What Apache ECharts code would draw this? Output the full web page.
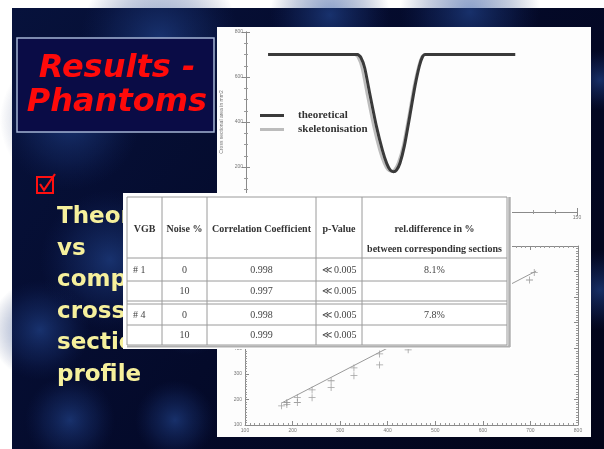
<!DOCTYPE html>
<html>
<head>
<meta charset="utf-8">
<title>Results - Phantoms</title>
<script src="https://cdn.jsdelivr.net/npm/echarts@6/dist/echarts.min.js"></script>
<style>
html,body{margin:0;padding:0;background:#fff}
#main{width:604px;height:449px}
</style>
</head>
<body>
<div id="main"></div>
<script>
// 上图: 截面积曲线 (x, mm2)
let theoretical = [[10,700],[50.5,700],[52,688],[53.8,640],[56.2,520],[59,385],[61.8,275],[63.8,215],[65.4,186],[66.8,179],[68.2,186],[69.8,218],[71.8,295],[74.2,425],[76.6,560],[78.6,650],[80,690],[81.2,700],[122,700]]
let skeletonisation = [[10,700],[49.2,700],[50.7,688],[52.5,640],[54.9,520],[57.7,385],[60.5,275],[62.6,215],[64.2,188],[65.6,181],[67.2,188],[69,220],[71.2,295],[73.7,425],[76.1,560],[78.2,650],[79.6,690],[80.8,700],[122,700]]
let profileLegend = ['theoretical','skeletonisation']
// 下图: 散点 + 回归线
let scatterPoints = [[177,175],[188,188],[188,180],[210,207],[210,188],[241,237],[241,207],[281,273],[281,247],[329,323],[329,293],[383,378],[383,335],[443,394],[698,667],[708,696]]
let fitLine = [[178,187],[712,702]]
// 表格
let tableHeader = ['VGB','Noise %','Correlation Coefficient','p-Value',['rel.difference in %','between corresponding sections']]
let tableRows = [
    ['# 1','0','0.998','≪ 0.005','8.1%'],
    ['','10','0.997','≪ 0.005',''],
    ['# 4','0','0.998','≪ 0.005','7.8%'],
    ['','10','0.999','≪ 0.005','']
]
// 幻灯片文字
let titleLines = ['Results -','Phantoms']
let bulletLines = ['Theoretical','vs','computed','cross','sectional','profile']

function slideGraphics(){
    let els = []
    // 背景
    els.push({type:'rect',z:-5,shape:{x:12,y:8,width:592,height:441},style:{fill:new echarts.graphic.LinearGradient(0,0,1,1,[
        {offset:0,color:'#07123c'},{offset:0.5,color:'#040a2a'},{offset:1,color:'#020418'}])}})
    let blobs = [
        [70,120,70],[160,40,80],[330,15,60],[470,12,70],[110,260,70],[40,330,50],
        [70,420,45],[175,420,40],[190,310,45],[600,290,40],[600,80,30]
    ]
    blobs.forEach(function(b){
        els.push({type:'circle',z:-4,shape:{cx:b[0],cy:b[1],r:b[2]},
            style:{fill:new echarts.graphic.RadialGradient(0.5,0.5,0.5,[
                {offset:0,color:'rgba(40,80,160,0.55)'},{offset:0.6,color:'rgba(30,60,130,0.25)'},{offset:1,color:'rgba(20,40,100,0)'}])}})
    })
    // 标题框
    els.push({type:'rect',z:-1,shape:{x:17,y:38,width:197,height:94},style:{fill:'#0a0c46',stroke:'#a4b4d4',lineWidth:1.5}})
    titleLines.forEach(function(t,i){
        els.push({type:'text',z:-1,x:117,y:69+i*34,style:{text:t,fill:'#ff0a0a',font:'italic bold 32px "DejaVu Sans"',
            align:'center',verticalAlign:'middle',shadowBlur:2,shadowOffsetX:2,shadowOffsetY:2,shadowColor:'#000'}})
    })
    // 复选框
    els.push({type:'rect',z:-1,shape:{x:37,y:177,width:16,height:16},style:{fill:'none',stroke:'#ff1010',lineWidth:2}})
    els.push({type:'polyline',z:-1,shape:{points:[[40,184],[44,190],[55,174]]},style:{stroke:'#ff1010',lineWidth:2.2,fill:'none'}})
    bulletLines.forEach(function(t,i){
        els.push({type:'text',z:-3,x:57,y:217+i*31.6,style:{text:t,fill:'#f6f09c',font:'bold 23px "DejaVu Sans"',
            verticalAlign:'middle',shadowBlur:2,shadowColor:'#000',shadowOffsetX:1,shadowOffsetY:1}})
    })
    // 白色图框
    els.push({type:'rect',z:-2,shape:{x:217,y:27,width:374,height:410},style:{fill:'#fdfdfd'}})
    return els
}

function tableGraphics(){
    let els = []
    let cols = [127,162,207,316,362,507]
    let rowLines = [197,258,281,301,304,325,345]
    let rowMid = [270,291.5,315,335.5]
    let centers = [144.5,184.5,261.5,339,434.5]
    let serif = '"Liberation Serif","DejaVu Serif",serif'
    els.push({type:'rect',z:100,shape:{x:123,y:193,width:389,height:156},style:{fill:'#fff'}})
    rowLines.forEach(function(y){
        els.push({type:'line',z:101,shape:{x1:127,y1:y,x2:507,y2:y},style:{stroke:'#9a9a9a',lineWidth:1}})
    })
    cols.forEach(function(x){
        els.push({type:'line',z:101,shape:{x1:x,y1:197,x2:x,y2:345},style:{stroke:'#9a9a9a',lineWidth:1}})
    })
    els.push({type:'line',z:101,shape:{x1:509.5,y1:197,x2:509.5,y2:347},style:{stroke:'#b0b0b0',lineWidth:2.5}})
    els.push({type:'line',z:101,shape:{x1:127,y1:346.5,x2:510,y2:346.5},style:{stroke:'#b0b0b0',lineWidth:2}})
    tableHeader.forEach(function(h,i){
        let lines = Array.isArray(h) ? h : [h]
        lines.forEach(function(t,j){
            els.push({type:'text',z:102,x:centers[i],y:229+j*20,style:{text:t,fill:'#333',font:'bold 10px '+serif,align:'center',verticalAlign:'middle'}})
        })
    })
    tableRows.forEach(function(r,ri){
        r.forEach(function(t,ci){
            if(!t) return
            let left = ci===0
            els.push({type:'text',z:102,x:left?133:centers[ci],y:rowMid[ri],style:{text:t,fill:'#444',font:'10px '+serif,
                align:left?'left':'center',verticalAlign:'middle'}})
        })
    })
    return els
}

function axisPair(grid,min,max,interval,minorSplit,isX,name){
    let lab = {fontSize:5,color:'#777',margin:3}
    let base = {
        gridIndex:grid,type:'value',min:min,max:max,interval:interval,
        axisLine:{show:true,lineStyle:{color:'#8a8a8a',width:1}},
        axisTick:{show:true,inside:true,length:4,lineStyle:{color:'#8a8a8a'}},
        minorTick:{show:true,splitNumber:minorSplit,length:2,lineStyle:{color:'#9a9a9a'}},
        splitLine:{show:false},
        axisLabel:lab
    }
    let first = Object.assign({},base,{position:isX?'bottom':'left'})
    if(name){
        first.name = name
        first.nameLocation = 'middle'
        first.nameGap = 12
        first.nameTextStyle = {fontSize:5,color:'#777'}
    }
    let second = Object.assign({},base,{position:isX?'top':'right',axisLabel:{show:false}})
    return [first,second]
}

let box = document.querySelector('#main')
let myChart = echarts.init(box)
let xs = axisPair(0,0,150,50,5,true).concat(axisPair(1,100,800,100,10,true))
let ys = axisPair(0,0,800,200,4,false,'Cross sectional area in mm2').concat(axisPair(1,100,800,100,10,false))
let option = {
    animation:false,
    grid:[
        {left:246,top:32,width:331,height:180},
        {left:245,top:246,width:333,height:179}
    ],
    xAxis:xs,
    yAxis:ys,
    legend:{
        data:profileLegend,
        orient:'vertical',
        left:255,
        top:105,
        itemWidth:24,
        itemHeight:3,
        itemGap:3,
        icon:'rect',
        textStyle:{fontFamily:'"Liberation Serif","DejaVu Serif",serif',fontWeight:'bold',fontSize:11,color:'#333',padding:[0,0,0,9]}
    },
    series:[
        {
            name:'skeletonisation',type:'line',xAxisIndex:0,yAxisIndex:0,data:skeletonisation,
            smooth:0.2,showSymbol:false,
            lineStyle:{color:'#bcbcbc',width:2.5},itemStyle:{color:'#bcbcbc'}
        },
        {
            name:'theoretical',type:'line',xAxisIndex:0,yAxisIndex:0,data:theoretical,
            smooth:0.2,showSymbol:false,
            lineStyle:{color:'#3a3a3a',width:3},itemStyle:{color:'#3a3a3a'}
        },
        {
            name:'fit',type:'line',xAxisIndex:2,yAxisIndex:2,data:fitLine,
            showSymbol:false,lineStyle:{color:'#9a9a9a',width:1}
        },
        {
            name:'points',type:'scatter',xAxisIndex:2,yAxisIndex:2,data:scatterPoints,
            symbol:'path://M4,0h1v4h4v1h-4v4h-1v-4h-4v-1h4z',symbolSize:7,
            itemStyle:{color:'#8a8a8a'}
        }
    ],
    graphic:slideGraphics().concat(tableGraphics())
}
myChart.setOption(option)
</script>
</body>
</html>
